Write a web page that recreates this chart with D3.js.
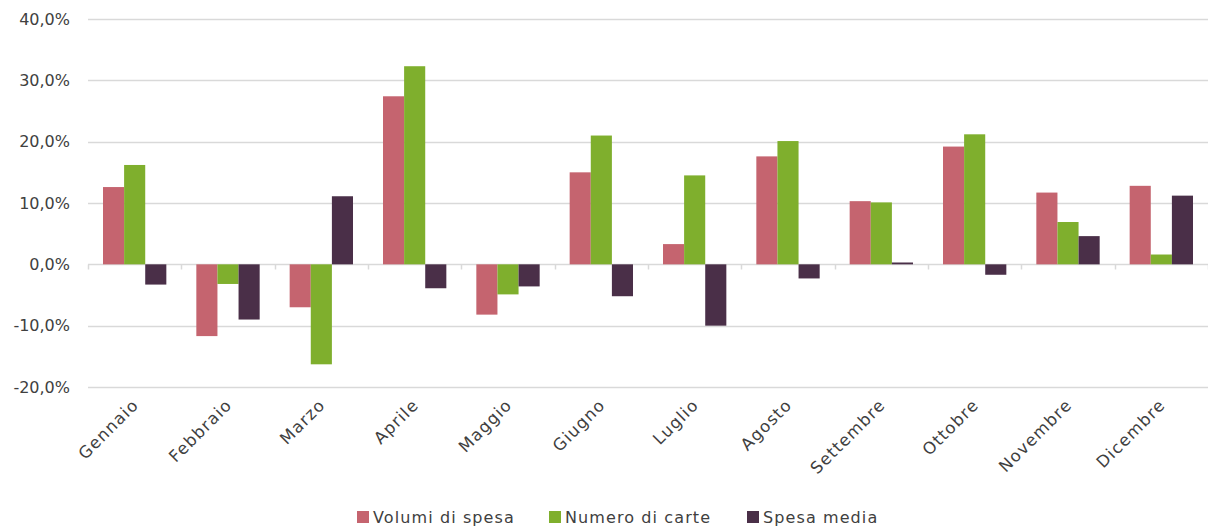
<!DOCTYPE html>
<html lang="en">
<head>
  <meta charset="UTF-8">
  <title>Variazioni mensili</title>
  <script src="https://d3js.org/d3.v7.min.js"></script>
  <style>
    body { margin: 0; background: #fff; }
    svg { display: block; }
  </style>
</head>
<body>
  <script>
    const months = ["Gennaio", "Febbraio", "Marzo", "Aprile", "Maggio", "Giugno",
      "Luglio", "Agosto", "Settembre", "Ottobre", "Novembre", "Dicembre"];
    const seriesNames = ["Volumi di spesa", "Numero di carte", "Spesa media"];
    const volumi = [12.6, -11.7, -7.0, 27.4, -8.2, 15.0, 3.3, 17.6, 10.3, 19.2, 11.7, 12.8];
    const carte = [16.2, -3.2, -16.3, 32.3, -4.9, 21.0, 14.5, 20.1, 10.1, 21.2, 6.9, 1.6];
    const spesaMedia = [-3.3, -9.0, 11.1, -3.9, -3.6, -5.2, -10.0, -2.3, 0.3, -1.7, 4.6, 11.2];
    const yTicks = [-20, -10, 0, 10, 20, 30, 40];
    const colors = ["#C5646F", "#7FAF2D", "#4A2F48"];

    const width = 1208, height = 527;
    const margin = { top: 19, right: 0, bottom: 140, left: 88 };
    const font = "'DejaVu Sans', sans-serif";

    const svg = d3.select("body")
      .append("svg")
      .attr("width", width)
      .attr("height", height);

    const x = d3.scaleBand()
      .domain(months)
      .range([margin.left, width - margin.right])
      .paddingInner(0.3214)
      .paddingOuter(0.1607);

    const xSub = d3.scaleBand()
      .domain(seriesNames)
      .range([0, x.bandwidth()]);

    const y = d3.scaleLinear()
      .domain([-20, 40])
      .range([387, 19]);

    const fmt = d => d3.format(".1f")(d).replace(".", ",").replace("−", "-") + "%";

    // griglia
    svg.append("g")
      .selectAll("line")
      .data(yTicks)
      .join("line")
      .attr("x1", margin.left)
      .attr("x2", width)
      .attr("y1", d => Math.round(y(d)) + 0.5)
      .attr("y2", d => Math.round(y(d)) + 0.5)
      .attr("stroke", "#d9d9d9")
      .attr("stroke-width", 1.5);

    // etichette asse y
    svg.append("g")
      .selectAll("text")
      .data(yTicks)
      .join("text")
      .attr("x", 70)
      .attr("y", d => y(d))
      .attr("dy", "0.36em")
      .attr("text-anchor", "end")
      .attr("font-family", font)
      .attr("font-size", 16)
      .attr("fill", "#404040")
      .text(fmt);

    const data = months.map((m, i) => ({ month: m, values: [volumi[i], carte[i], spesaMedia[i]] }));

    // barre
    svg.append("g")
      .selectAll("g")
      .data(data)
      .join("g")
      .attr("transform", d => `translate(${x(d.month)},0)`)
      .selectAll("rect")
      .data(d => d.values.map((v, j) => ({ key: seriesNames[j], value: v, j })))
      .join("rect")
      .attr("x", d => xSub(d.key))
      .attr("width", xSub.bandwidth())
      .attr("y", d => y(Math.max(0, d.value)))
      .attr("height", d => Math.max(1, Math.abs(y(d.value) - y(0))))
      .attr("fill", d => colors[d.j]);

    // asse x con tacche
    const zeroY = Math.round(y(0)) + 0.5;
    const tickXs = d3.range(months.length + 1).map(i => margin.left + i * (width - margin.left) / months.length);
    svg.append("g")
      .selectAll("line")
      .data(tickXs)
      .join("line")
      .attr("x1", d => Math.round(d) + 0.5)
      .attr("x2", d => Math.round(d) + 0.5)
      .attr("y1", zeroY)
      .attr("y2", zeroY + 5)
      .attr("stroke", "#d9d9d9")
      .attr("stroke-width", 1.5);

    svg.append("g")
      .selectAll("text")
      .data(months)
      .join("text")
      .attr("transform", d => `translate(${x(d) + x.bandwidth() / 2 + 5},${406}) rotate(-45)`)
      .attr("text-anchor", "end")
      .attr("font-family", font)
      .attr("font-size", 16.5)
      .attr("letter-spacing", 1.2)
      .attr("fill", "#404040")
      .text(d => d);

    // legenda
    const legendX = [357, 549, 747];
    const legend = svg.append("g")
      .selectAll("g")
      .data(seriesNames)
      .join("g")
      .attr("transform", (d, i) => `translate(${legendX[i]},511)`);
    legend.append("rect")
      .attr("width", 12)
      .attr("height", 12)
      .attr("fill", (d, i) => colors[i]);
    legend.append("text")
      .attr("x", 16)
      .attr("y", 12)
      .attr("font-family", font)
      .attr("font-size", 16)
      .attr("letter-spacing", 1.1)
      .attr("fill", "#404040")
      .text(d => d);
  </script>
</body>
</html>
